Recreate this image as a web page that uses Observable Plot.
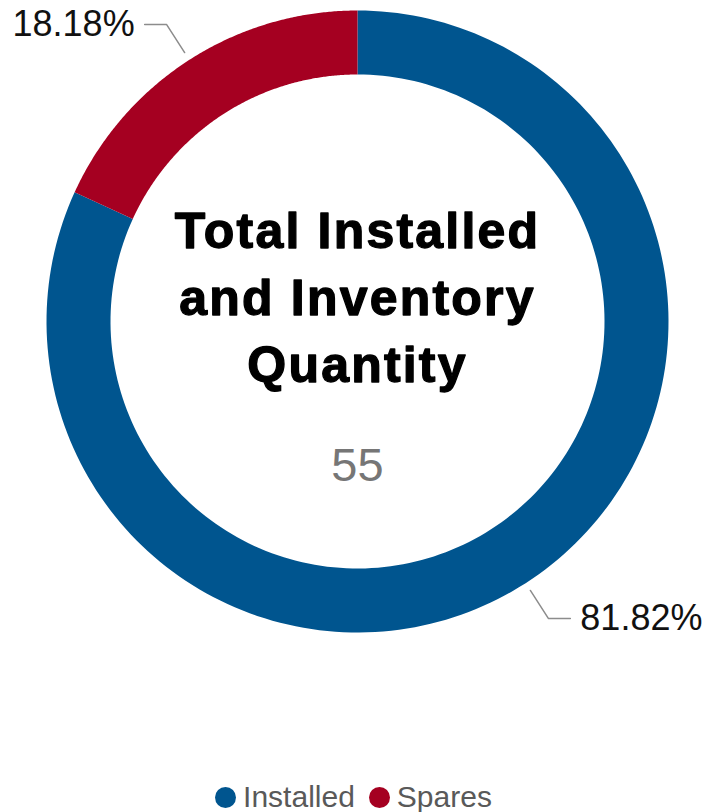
<!DOCTYPE html>
<html>
<head>
<meta charset="utf-8">
<script src="https://cdn.jsdelivr.net/npm/d3@7"></script>
<script src="https://cdn.jsdelivr.net/npm/@observablehq/plot@0.6"></script>
<style>
  body { margin: 0; background: #fff; font-family: "Liberation Sans", Arial, sans-serif; }
  #chart svg { display: block; }
  #legend { height: 44px; display: flex; justify-content: center; align-items: center; font-size: 30px; color: #595959; }
  .item { display: flex; align-items: center; margin: 0 7px; }
  .sw { width: 21px; height: 21px; border-radius: 50%; margin-right: 7px; }
</style>
</head>
<body>
<div id="chart"></div>
<div id="legend"></div>
<script>
// ---- data ----
const categories = ["Installed", "Spares"];
const values = [45, 10];
const colors = ["#00558F", "#A50021"];
const titleLines = ["Total Installed", "and Inventory", "Quantity"];

// ---- layout ----
const width = 707, height = 775;
const cx = 357, cy = 321, R = 311;
const innerR = 247 / R;

const total = d3.sum(values);
let acc = 0;
const slices = categories.map((c, i) => {
  const a0 = acc / total * 2 * Math.PI;
  acc += values[i];
  const a1 = acc / total * 2 * Math.PI;
  return {cat: c, value: values[i], a0, a1, mid: (a0 + a1) / 2, pct: (values[i] / total * 100).toFixed(2) + "%"};
});

// ring polygons from slice angles
const ring = [];
for (const s of slices) {
  const N = 200;
  for (let k = 0; k <= N; k++) {
    const t = s.a0 + (s.a1 - s.a0) * k / N;
    ring.push({cat: s.cat, x: Math.sin(t), y: Math.cos(t)});
  }
  for (let k = N; k >= 0; k--) {
    const t = s.a0 + (s.a1 - s.a0) * k / N;
    ring.push({cat: s.cat, x: innerR * Math.sin(t), y: innerR * Math.cos(t)});
  }
}

// leader lines
const r1 = 1.028, r2 = 1.135, hLen = 22 / R, gap = 10 / R;
const leaders = [];
const labels = [];
for (const s of slices) {
  const side = Math.sin(s.mid) >= 0 ? 1 : -1;
  const ex = r2 * Math.sin(s.mid), ey = r2 * Math.cos(s.mid);
  leaders.push({cat: s.cat, x: r1 * Math.sin(s.mid), y: r1 * Math.cos(s.mid)});
  leaders.push({cat: s.cat, x: ex, y: ey});
  leaders.push({cat: s.cat, x: ex + side * hLen, y: ey});
  labels.push({cat: s.cat, side, x: ex + side * (hLen + gap), y: ey, text: s.pct});
}

const chart = Plot.plot({
  width, height,
  margin: 0,
  x: {domain: [-cx / R, (width - cx) / R], axis: null},
  y: {domain: [-(height - cy) / R, cy / R], axis: null},
  color: {domain: categories, range: colors},
  style: {fontFamily: "'Liberation Sans', Arial, sans-serif", background: "#fff"},
  marks: [
    Plot.line(ring, {x: "x", y: "y", z: "cat", fill: "cat", stroke: "none", curve: "linear-closed"}),
    Plot.line(leaders, {x: "x", y: "y", z: "cat", stroke: "#8c8c8c", strokeWidth: 1.5}),
    Plot.text(labels.filter(d => d.side > 0), {x: "x", y: "y", text: "text", textAnchor: "start", fontSize: 36, fill: "#111"}),
    Plot.text(labels.filter(d => d.side < 0), {x: "x", y: "y", text: "text", textAnchor: "end", fontSize: 36, fill: "#111"}),
    Plot.text([titleLines.join("\n")], {x: () => 0, y: () => 0, text: d => d, dy: -28, lineHeight: 1.34,
      fontSize: 50, fontWeight: "bold", fill: "#000", stroke: "#000", strokeWidth: 1.3}),
    Plot.text([String(total)], {x: () => 0, y: () => 0, text: d => d, dy: 144, fontSize: 47, fill: "#767676"})
  ]
});

document.getElementById("chart").appendChild(chart);
// letter spacing for center title
chart.querySelectorAll("text").forEach(t => {
  if (t.textContent.startsWith("Total")) t.style.letterSpacing = "2.2px";
});

// legend
const lg = document.getElementById("legend");
categories.forEach((c, i) => {
  const it = document.createElement("div");
  it.className = "item";
  const sw = document.createElement("span");
  sw.className = "sw";
  sw.style.background = colors[i];
  const lb = document.createElement("span");
  lb.textContent = c;
  it.appendChild(sw); it.appendChild(lb);
  lg.appendChild(it);
});
</script>
</body>
</html>
